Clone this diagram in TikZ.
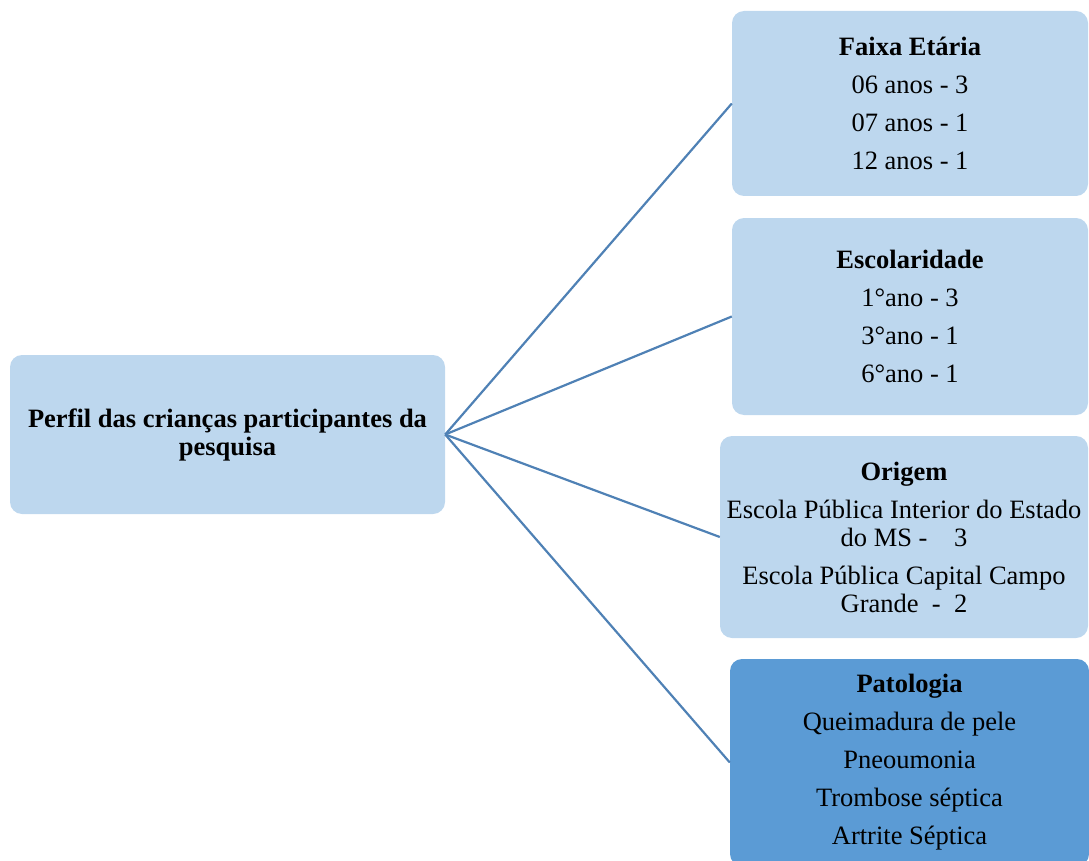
\documentclass[tikz,border=0pt]{standalone}
\usepackage{fontspec}
\setmainfont{Liberation Serif}
\definecolor{lightbox}{HTML}{BDD7EE}
\definecolor{darkbox}{HTML}{5B9BD5}
\definecolor{linkcol}{HTML}{4F81B5}
\tikzset{
  box/.style={fill=lightbox, rounded corners=12pt, inner sep=0pt, align=center,
    font=\fontsize{26.5}{28}\selectfont},
  darkboxst/.style={box, fill=darkbox},
  link/.style={draw=linkcol, line width=2.2pt}
}
\begin{document}
\begin{tikzpicture}[x=1pt,y=-1pt]
\useasboundingbox (0,0) rectangle (1089,861);
\begin{scope}
\clip (0,0) rectangle (1089,861);
\node[box, minimum width=435pt, minimum height=159pt] (root) at (227.5,434.5)
  {\textbf{Perfil das crianças participantes da}\\\textbf{pesquisa}};
\node[box, minimum width=356pt, minimum height=185pt] (fa) at (910,103.5)
  {\textbf{Faixa Etária}\\[10pt]06 anos - 3\\[10pt]07 anos - 1\\[10pt]12 anos - 1};
\node[box, minimum width=356pt, minimum height=197pt] (es) at (910,316.5)
  {\textbf{Escolaridade}\\[10pt]1°ano - 3\\[10pt]3°ano - 1\\[10pt]6°ano - 1};
\node[box, minimum width=368pt, minimum height=202pt] (or) at (904,537)
  {\textbf{Origem}\\[10pt]Escola Pública Interior do Estado\\do MS -\quad 3\\[10pt]Escola Pública Capital Campo\\Grande \ -\ \ 2};
\node[darkboxst, minimum width=359pt, minimum height=207pt] (pa) at (909.5,762.5)
  {\textbf{Patologia}\\[10pt]Queimadura de pele\\[10pt]Pneoumonia\\[10pt]Trombose séptica\\[10pt]Artrite Séptica};
\draw[link] (root.east) -- (fa.west);
\draw[link] (root.east) -- (es.west);
\draw[link] (root.east) -- (or.west);
\draw[link] (root.east) -- (pa.west);
\end{scope}
\end{tikzpicture}
\end{document}
